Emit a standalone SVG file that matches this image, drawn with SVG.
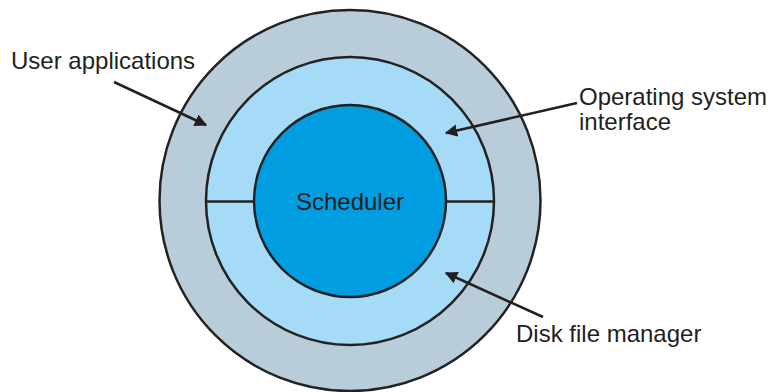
<svg xmlns="http://www.w3.org/2000/svg" width="768" height="392" viewBox="0 0 768 392">
<defs>
<style>
.ring{stroke:#222;stroke-width:2.5}
.lbl{font-family:"Liberation Sans",Arial,sans-serif;font-size:24px;fill:#231f20}
.conn{stroke:#231f20;stroke-width:2.5;fill:none}
</style>
<marker id="ah" viewBox="0 0 10 10" refX="9" refY="5" markerWidth="5" markerHeight="5" markerUnits="strokeWidth" orient="auto">
<path d="M0,0 L10,5 L0,10 Z" fill="#231f20"/>
</marker>
</defs>
<rect width="768" height="392" fill="#fff"/>
<g id="user-applications">
<circle class="ring" cx="350" cy="200.5" r="190.5" fill="#b8ccd9"/>
</g>
<g id="os-interface">
<circle class="ring" cx="350" cy="201" r="144" fill="#a6dbf7"/>
</g>
<g id="dividers">
<line class="ring" x1="206" y1="201.5" x2="254" y2="201.5"/>
<line class="ring" x1="446" y1="201.5" x2="494" y2="201.5"/>
</g>
<g id="scheduler">
<circle class="ring" cx="350" cy="201" r="96" fill="#009ee0"/>
<text class="lbl" x="350" y="210" text-anchor="middle">Scheduler</text>
</g>
<g id="labels">
<text class="lbl" x="11" y="69">User applications</text>
<text class="lbl" x="579" y="105">Operating system</text>
<text class="lbl" x="579" y="130">interface</text>
<text class="lbl" x="516" y="342">Disk file manager</text>
</g>
<g id="connectors">
<line class="conn" x1="114" y1="82" x2="206" y2="125" marker-end="url(#ah)"/>
<line class="conn" x1="577" y1="103" x2="446" y2="133" marker-end="url(#ah)"/>
<line class="conn" x1="543" y1="317" x2="446" y2="273" marker-end="url(#ah)"/>
</g>
</svg>
